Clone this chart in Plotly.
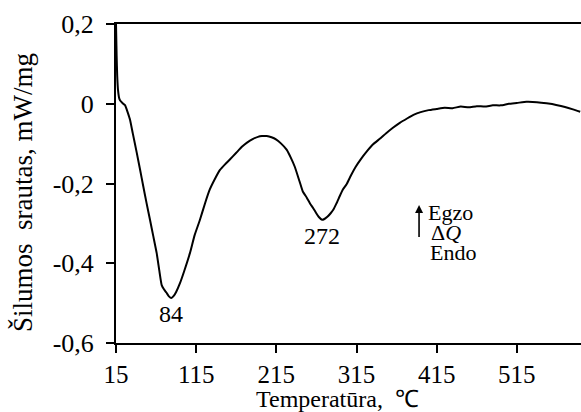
import plotly.graph_objects as go

# DSC heat-flow curve
temperature = [15, 15.3, 15.8, 16.5, 17.5, 19, 20, 22, 24, 26, 28, 30, 32.5, 36, 40.8,
               45, 49, 53, 57.4, 61.5, 65.7, 69, 72, 75, 78, 81, 84, 87, 90, 94.8,
               100, 107.3, 113, 119.7, 126, 132, 138, 144.7, 151, 157, 165, 172, 178,
               186, 192, 197, 203, 209, 215, 221, 227.8, 233, 238, 244, 248, 252.8,
               257, 261, 265, 268, 272, 275, 279, 283, 286, 290, 294, 298, 302.6,
               308, 314, 320, 327.6, 336, 344, 352, 360, 369, 378, 386, 395, 405,
               415, 425, 435, 445, 455, 465, 475, 485, 495, 505, 515, 527, 540,
               552, 564, 575, 585, 594]
heat_flow = [0.2, 0.17, 0.12, 0.07, 0.035, 0.014, 0.009, 0.004, 0.0, -0.003, -0.012,
             -0.024, -0.040, -0.075, -0.122, -0.165, -0.207, -0.248, -0.291, -0.332,
             -0.374, -0.418, -0.455, -0.466, -0.474, -0.483, -0.487, -0.482, -0.472,
             -0.450, -0.42, -0.374, -0.33, -0.291, -0.25, -0.215, -0.19, -0.166,
             -0.152, -0.140, -0.123, -0.108, -0.098, -0.088, -0.083, -0.081, -0.081,
             -0.084, -0.090, -0.100, -0.115, -0.135, -0.158, -0.195, -0.22, -0.235,
             -0.250, -0.262, -0.275, -0.284, -0.291, -0.289, -0.283, -0.274, -0.266,
             -0.250, -0.232, -0.215, -0.202, -0.18, -0.158, -0.140, -0.120, -0.101,
             -0.088, -0.074, -0.061, -0.048, -0.037, -0.028, -0.021, -0.016, -0.013,
             -0.010, -0.011, -0.007, -0.009, -0.006, -0.007, -0.004, -0.004, 0.000,
             0.002, 0.005, 0.004, 0.001, -0.003, -0.008, -0.014, -0.020]

x_ticks = [15, 115, 215, 315, 415, 515]
y_ticks = [-0.6, -0.4, -0.2, 0, 0.2]
y_tick_text = ["-0,6", "-0,4", "-0,2", "0", "0,2"]

peak_temps = [84, 272]
peak_values = [-0.487, -0.291]

FONT = "Liberation Serif, Times New Roman, serif"

fig = go.Figure()
fig.add_trace(go.Scatter(
    x=temperature, y=heat_flow, mode="lines",
    line=dict(color="black", width=2, shape="spline", smoothing=0.4),
    showlegend=False, hoverinfo="skip",
))

annotations = []
for t, v in zip(peak_temps, peak_values):
    annotations.append(dict(
        x=t, y=v, xref="x", yref="y", text=str(t), showarrow=False,
        yanchor="top", yshift=-1, font=dict(family=FONT, size=24, color="black"),
    ))

# Egzo / Endo direction marker
annotations.append(dict(
    x=393, y=-0.254, ax=393, ay=-0.338, xref="x", yref="y", axref="x", ayref="y",
    text="", showarrow=True, arrowhead=2, arrowsize=1, arrowwidth=1.6,
    arrowcolor="black",
))
marker_labels = [("Egzo", 402, -0.2725), ("Δ<i>Q</i>", 406, -0.323), ("Endo", 404, -0.374)]
for txt, mx, my in marker_labels:
    annotations.append(dict(x=mx, y=my, xref="x", yref="y", text=txt,
                            showarrow=False, xanchor="left", yanchor="middle",
                            font=dict(family=FONT, size=22, color="black")))

# axis titles (positions given in pixels, converted to paper fractions below)
annotations.append(dict(x=337, y=399, xref="paper", yref="paper", text="Temperatūra,  ℃",
                        showarrow=False, xanchor="center", yanchor="middle",
                        font=dict(family=FONT, size=24, color="black")))
annotations.append(dict(x=23, y=193, xref="paper", yref="paper",
                        text="Šilumos&nbsp;&nbsp;srautas, mW/mg", textangle=-90,
                        showarrow=False, xanchor="center", yanchor="middle",
                        font=dict(family=FONT, size=27, color="black")))

W, H = 581, 412
L, R, T, B = 116, 0, 24, 69
pw, ph = W - L - R, H - T - B
for a in annotations[-2:]:
    a["x"] = (a["x"] - L) / pw
    a["y"] = (H - B - a["y"]) / ph

fig.update_layout(
    width=W, height=H,
    margin=dict(l=L, r=R, t=T, b=B, pad=0),
    paper_bgcolor="white", plot_bgcolor="white",
    font=dict(family=FONT, size=25, color="black"),
    annotations=annotations,
    xaxis=dict(
        range=[15, 595], tickvals=x_ticks, ticktext=[str(v) for v in x_ticks],
        showline=True, linecolor="black", linewidth=2, mirror=True,
        ticks="outside", ticklen=8, tickwidth=2, tickcolor="black",
        showgrid=False, zeroline=False, ticklabelstandoff=0,
        tickfont=dict(family=FONT, size=25, color="black"),
    ),
    yaxis=dict(
        range=[-0.6, 0.2], tickvals=y_ticks, ticktext=y_tick_text,
        showline=True, linecolor="black", linewidth=2,
        ticks="outside", ticklen=8, tickwidth=2, tickcolor="black",
        showgrid=False, zeroline=False, ticklabelstandoff=7,
        tickfont=dict(family=FONT, size=26, color="black"),
    ),
)

fig.write_html("out.html")
